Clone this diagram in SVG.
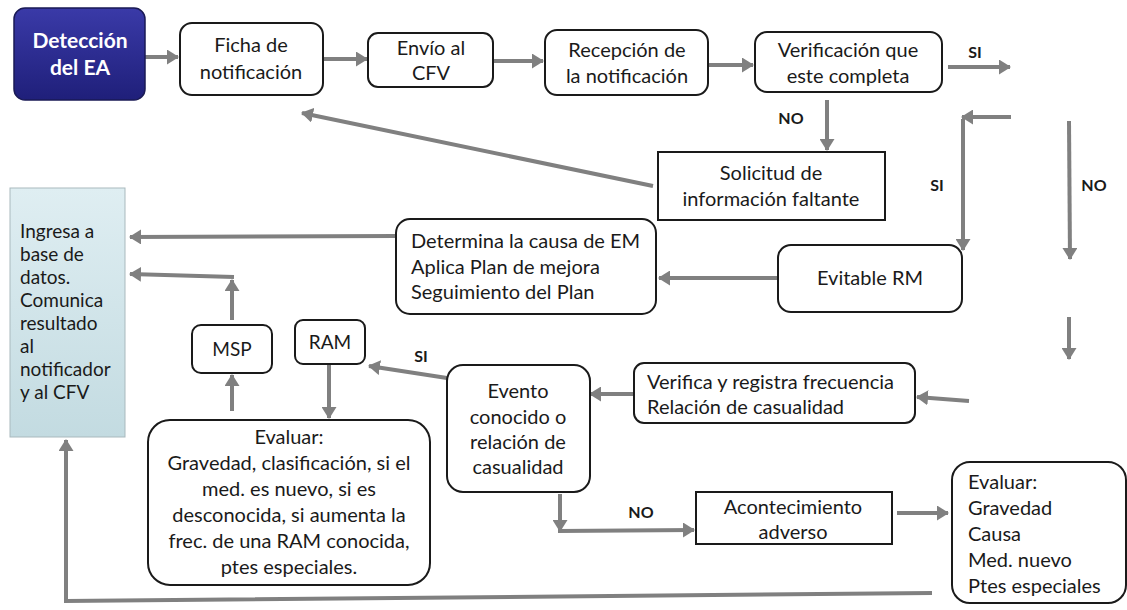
<svg xmlns="http://www.w3.org/2000/svg" width="1127" height="610" viewBox="0 0 1127 610">
<defs>
<linearGradient id="gBlue" x1="0" y1="0" x2="0" y2="1">
<stop offset="0" stop-color="#3a3aa8"/>
<stop offset="1" stop-color="#1f1f7a"/>
</linearGradient>
<linearGradient id="gTeal" x1="0" y1="0" x2="0" y2="1">
<stop offset="0" stop-color="#dfeef2"/>
<stop offset="1" stop-color="#c3dbe1"/>
</linearGradient>
<marker id="ah" viewBox="0 0 12 15" refX="11" refY="7.5" markerWidth="12" markerHeight="15" markerUnits="userSpaceOnUse" orient="auto">
<path d="M0,0L12,7.5L0,15z" fill="#808080"/>
</marker>
</defs>
<style>
.box{fill:#fff;stroke:#1a1a1a;stroke-width:2}
.t{font-family:Lato,"Open Sans",sans-serif;font-size:20px;fill:#1a1a1a}
.c{text-anchor:middle}
.ing{font-size:19px}
.lbl{font-family:Lato,"Open Sans",sans-serif;font-weight:bold;font-size:16px;fill:#1a1a1a;text-anchor:middle}
.ar{stroke:#808080;stroke-width:4;fill:none;marker-end:url(#ah)}
</style>

<g id="connectors">
<line class="ar" x1="145" y1="57" x2="178" y2="57"/>
<line class="ar" x1="323" y1="59" x2="367" y2="59"/>
<line class="ar" x1="494" y1="61" x2="543" y2="61"/>
<line class="ar" x1="708" y1="65" x2="753" y2="65"/>
<line class="ar" x1="948" y1="67" x2="1010" y2="67"/>
<line class="ar" x1="827" y1="100" x2="827" y2="150"/>
<line class="ar" x1="653" y1="186" x2="302" y2="113"/>
<line class="ar" x1="1011" y1="117" x2="962" y2="117"/>
<line class="ar" x1="963" y1="119" x2="963" y2="250"/>
<line class="ar" x1="1069" y1="121" x2="1070" y2="259"/>
<line class="ar" x1="1069" y1="317" x2="1069" y2="359"/>
<line class="ar" x1="777" y1="278" x2="659" y2="278"/>
<line class="ar" x1="396" y1="236" x2="130" y2="237"/>
<line class="ar" x1="969" y1="401" x2="917" y2="397"/>
<line class="ar" x1="634" y1="394" x2="590" y2="394"/>
<line class="ar" x1="447" y1="378" x2="369" y2="366"/>
<line class="ar" x1="329" y1="365" x2="329" y2="418"/>
<line class="ar" x1="232" y1="411" x2="232" y2="375"/>
<line class="ar" x1="232" y1="320" x2="232" y2="280"/>
<line class="ar" x1="234" y1="277" x2="130" y2="274"/>
<line class="ar" x1="560" y1="494" x2="560" y2="531"/>
<line class="ar" x1="558" y1="531" x2="694" y2="530"/>
<line class="ar" x1="897" y1="513" x2="948" y2="513"/>
<path class="ar" d="M932,593 L66,601 L66,440"/>
<text class="lbl" x="975" y="58">SI</text>
<text class="lbl" x="791" y="124">NO</text>
<text class="lbl" x="937" y="191">SI</text>
<text class="lbl" x="1094" y="191">NO</text>
<text class="lbl" x="421" y="362">SI</text>
<text class="lbl" x="641" y="518">NO</text>
</g>

<g id="deteccion">
<rect x="14" y="8" width="131" height="92" rx="11" fill="url(#gBlue)" stroke="#1a1a55" stroke-width="1.5"/>
<text class="t c" x="80" y="48" style="fill:#fff;font-weight:bold;font-size:21px">Detección</text>
<text class="t c" x="80" y="75" style="fill:#fff;font-weight:bold;font-size:21px">del EA</text>
</g>

<g id="ficha">
<rect class="box" x="180" y="23" width="143" height="72" rx="12"/>
<text class="t c" x="251" y="52">Ficha de</text>
<text class="t c" x="251" y="79">notificación</text>
</g>

<g id="envio">
<rect class="box" x="368" y="33" width="125" height="54" rx="10"/>
<text class="t c" x="431" y="55">Envío al</text>
<text class="t c" x="431" y="80">CFV</text>
</g>

<g id="recepcion">
<rect class="box" x="545" y="30" width="163" height="65" rx="12"/>
<text class="t c" x="627" y="57">Recepción de</text>
<text class="t c" x="627" y="83">la notificación</text>
</g>

<g id="verificacion">
<rect class="box" x="755" y="32" width="187" height="60" rx="12"/>
<text class="t c" x="848" y="57">Verificación que</text>
<text class="t c" x="848" y="83">este completa</text>
</g>

<g id="solicitud">
<rect class="box" x="658" y="152" width="227" height="68"/>
<text class="t c" x="771" y="180">Solicitud de</text>
<text class="t c" x="771" y="206">información faltante</text>
</g>

<g id="evitable">
<rect class="box" x="778" y="245" width="184" height="67" rx="13"/>
<text class="t c" x="870" y="285">Evitable RM</text>
</g>

<g id="determina">
<rect class="box" x="396" y="219" width="260" height="95" rx="14"/>
<text class="t" x="411" y="248">Determina la causa de EM</text>
<text class="t" x="411" y="274">Aplica Plan de mejora</text>
<text class="t" x="411" y="299">Seguimiento del Plan</text>
</g>

<g id="ingresa">
<rect x="10" y="188" width="115" height="249" fill="url(#gTeal)" stroke="#a9b9bd" stroke-width="1"/>
<text class="t ing" x="20" y="238">Ingresa a</text>
<text class="t ing" x="20" y="261">base de</text>
<text class="t ing" x="20" y="284">datos.</text>
<text class="t ing" x="20" y="307">Comunica</text>
<text class="t ing" x="20" y="330">resultado</text>
<text class="t ing" x="20" y="353">al</text>
<text class="t ing" x="20" y="376">notificador</text>
<text class="t ing" x="20" y="399">y al CFV</text>
</g>

<g id="msp">
<rect class="box" x="192" y="325" width="80" height="48" rx="9"/>
<text class="t c" x="232" y="356" style="font-size:19px">MSP</text>
</g>

<g id="ram">
<rect class="box" x="295" y="320" width="70" height="44" rx="8"/>
<text class="t c" x="330" y="349" style="font-size:19px">RAM</text>
</g>

<g id="evaluar1">
<rect class="box" x="148" y="420" width="282" height="165" rx="22"/>
<text class="t c" x="289" y="444">Evaluar:</text>
<text class="t c" x="289" y="470">Gravedad, clasificación, si el</text>
<text class="t c" x="289" y="496">med. es nuevo, si es</text>
<text class="t c" x="289" y="522">desconocida, si aumenta la</text>
<text class="t c" x="289" y="548">frec. de una RAM conocida,</text>
<text class="t c" x="289" y="574">ptes especiales.</text>
</g>

<g id="evento">
<rect class="box" x="447" y="365" width="143" height="127" rx="16"/>
<text class="t c" x="518" y="398">Evento</text>
<text class="t c" x="518" y="424">conocido o</text>
<text class="t c" x="518" y="449">relación de</text>
<text class="t c" x="518" y="474">casualidad</text>
</g>

<g id="verifica">
<rect class="box" x="634" y="363" width="281" height="60" rx="10"/>
<text class="t" x="647" y="389">Verifica y registra frecuencia</text>
<text class="t" x="647" y="414">Relación de casualidad</text>
</g>

<g id="acontecimiento">
<rect class="box" x="696" y="492" width="196" height="52"/>
<text class="t c" x="793" y="514">Acontecimiento</text>
<text class="t c" x="793" y="539">adverso</text>
</g>

<g id="evaluar2">
<rect class="box" x="952" y="462" width="174" height="141" rx="18"/>
<text class="t" x="968" y="489">Evaluar:</text>
<text class="t" x="968" y="515">Gravedad</text>
<text class="t" x="968" y="541">Causa</text>
<text class="t" x="968" y="567">Med. nuevo</text>
<text class="t" x="968" y="593">Ptes especiales</text>
</g>
</svg>
